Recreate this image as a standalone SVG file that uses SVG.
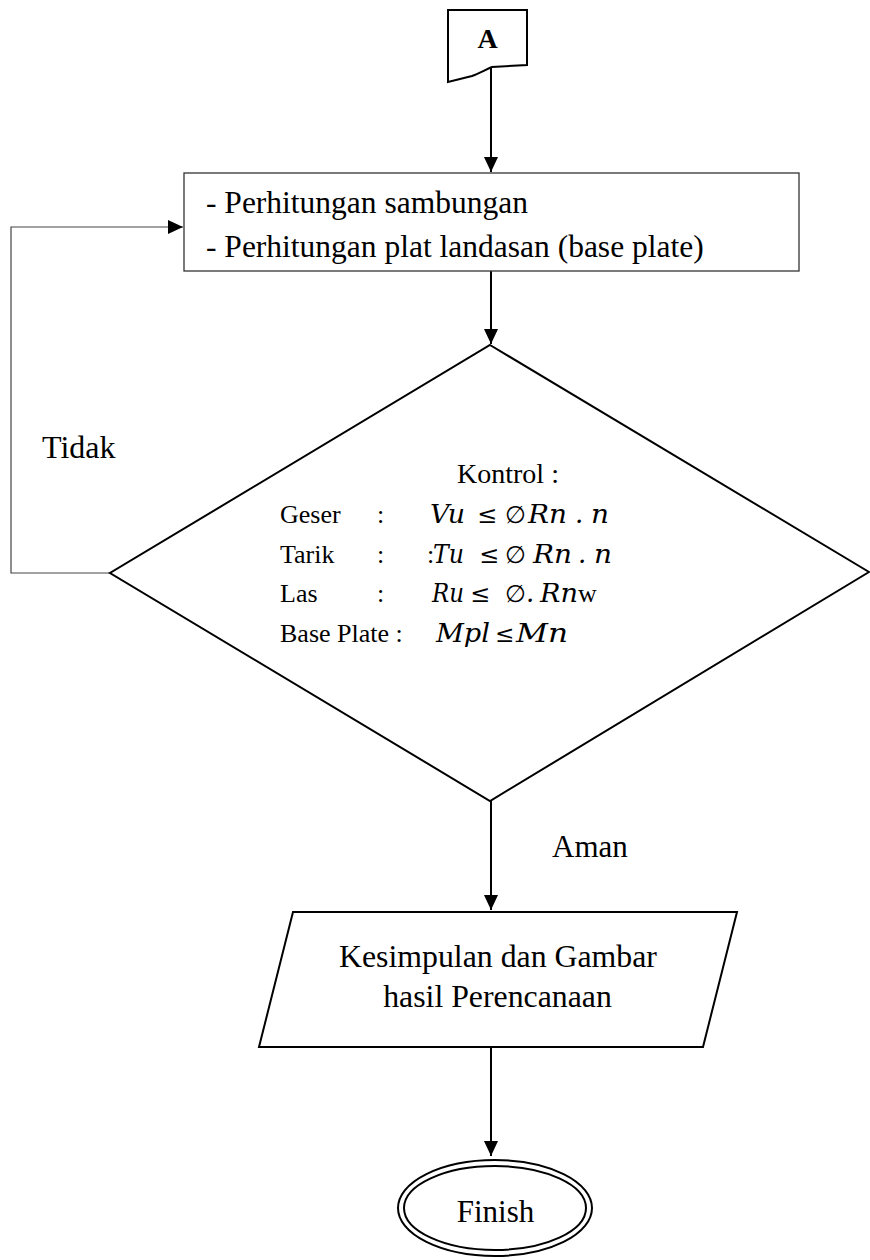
<svg xmlns="http://www.w3.org/2000/svg" width="870" height="1260" viewBox="0 0 870 1260">
<style>
.t{font-family:"Liberation Serif","Times New Roman",serif;fill:#000}
.m{font-family:"DejaVu Serif",serif;font-style:italic;fill:#000}
.s{font-family:"DejaVu Serif",serif;fill:#000}
.thin{fill:#fff;stroke:#333;stroke-width:1.3}
.thick{fill:#fff;stroke:#000;stroke-width:2}
.conn{fill:none;stroke:#000;stroke-width:2}
.loop{fill:none;stroke:#444;stroke-width:1.2}
</style>
<defs>
<marker id="ah" markerWidth="16" markerHeight="14" refX="15" refY="7" orient="auto" markerUnits="userSpaceOnUse">
<path d="M0,0 L15,7 L0,14 Z" fill="#000"/>
</marker>
</defs>
<rect width="870" height="1260" fill="#fff"/>

<g id="connectors">
<line class="conn" x1="491" y1="67" x2="491" y2="172" marker-end="url(#ah)"/>
<line class="conn" x1="491" y1="271" x2="491" y2="344" marker-end="url(#ah)"/>
<polyline class="loop" points="110,573 11,573 11,227 183,227" marker-end="url(#ah)"/>
<line class="conn" x1="491" y1="801" x2="491" y2="910" marker-end="url(#ah)"/>
<line class="conn" x1="491" y1="1047" x2="491" y2="1156" marker-end="url(#ah)"/>
<text class="t" x="42" y="458" font-size="32">Tidak</text>
<text class="t" x="552" y="857" font-size="31">Aman</text>
</g>

<g id="node-a">
<path class="thick" stroke-width="1.5" d="M448,10 L527,10 L527,65 L492,67 C485,70 478,74 472,76 L448,82 Z"/>
<text class="t" x="487.5" y="48" font-size="28" font-weight="bold" text-anchor="middle">A</text>
</g>

<g id="node-process">
<rect class="thin" x="184" y="173" width="615" height="98"/>
<text class="t" x="206" y="213" font-size="31.5">- Perhitungan sambungan</text>
<text class="t" x="206" y="257" font-size="31.5">- Perhitungan plat landasan (base plate)</text>
</g>

<g id="node-decision">
<polygon class="thick" points="490,345 869,572 490,801 110,573"/>
<text class="t" x="508" y="483" font-size="28" text-anchor="middle">Kontrol :</text>
<text class="t" x="280" y="523" font-size="26">Geser</text>
<text class="t" x="377" y="523" font-size="26">:</text>
<text class="t" x="280" y="563" font-size="26">Tarik</text>
<text class="t" x="377" y="563" font-size="26">:</text>
<text class="t" x="280" y="602" font-size="26">Las</text>
<text class="t" x="377" y="602" font-size="26">:</text>
<text class="t" x="280" y="642" font-size="26">Base Plate :</text>

<text class="m" x="430" y="523" font-size="26" textLength="35" lengthAdjust="spacingAndGlyphs">Vu</text>
<text class="s" x="477" y="523" font-size="24">≤</text>
<text class="s" x="505" y="523" font-size="24">∅</text>
<text class="m" x="528" y="523" font-size="26" textLength="39" lengthAdjust="spacingAndGlyphs">Rn</text>
<text class="m" x="575" y="523" font-size="26">.</text>
<text class="m" x="591" y="523" font-size="26" textLength="18" lengthAdjust="spacingAndGlyphs">n</text>

<text class="t" x="427" y="563" font-size="26">:</text>
<text class="m" x="433" y="563" font-size="26" textLength="31" lengthAdjust="spacingAndGlyphs">Tu</text>
<text class="s" x="479" y="563" font-size="24">≤</text>
<text class="s" x="505" y="563" font-size="24">∅</text>
<text class="m" x="533" y="563" font-size="26" textLength="39" lengthAdjust="spacingAndGlyphs">Rn</text>
<text class="m" x="578" y="563" font-size="26">.</text>
<text class="m" x="594" y="563" font-size="26" textLength="18" lengthAdjust="spacingAndGlyphs">n</text>

<text class="m" x="432" y="602" font-size="26" textLength="32" lengthAdjust="spacingAndGlyphs">Ru</text>
<text class="s" x="470" y="602" font-size="24">≤</text>
<text class="s" x="505" y="602" font-size="24">∅</text>
<text class="m" x="526" y="602" font-size="26">.</text>
<text class="m" x="540" y="602" font-size="26" textLength="38" lengthAdjust="spacingAndGlyphs">Rn</text>
<text class="t" x="578" y="602" font-size="26">w</text>

<text class="m" x="436" y="642" font-size="26" textLength="54" lengthAdjust="spacingAndGlyphs">Mpl</text>
<text class="s" x="495" y="642" font-size="23">≤</text>
<text class="m" x="516" y="642" font-size="26" textLength="52" lengthAdjust="spacingAndGlyphs">Mn</text>
</g>

<g id="node-output">
<polygon class="thick" stroke-width="1.5" points="293,912 737,912 703,1047 259,1047"/>
<text class="t" x="498" y="967" font-size="31.8" text-anchor="middle">Kesimpulan dan Gambar</text>
<text class="t" x="497.5" y="1007" font-size="31.8" text-anchor="middle">hasil Perencanaan</text>
</g>

<g id="node-finish">
<ellipse class="thick" cx="495" cy="1208" rx="97" ry="48"/>
<ellipse class="thick" cx="495" cy="1208" rx="91" ry="42"/>
<text class="t" x="495.5" y="1222" font-size="31" text-anchor="middle">Finish</text>
</g>
</svg>
